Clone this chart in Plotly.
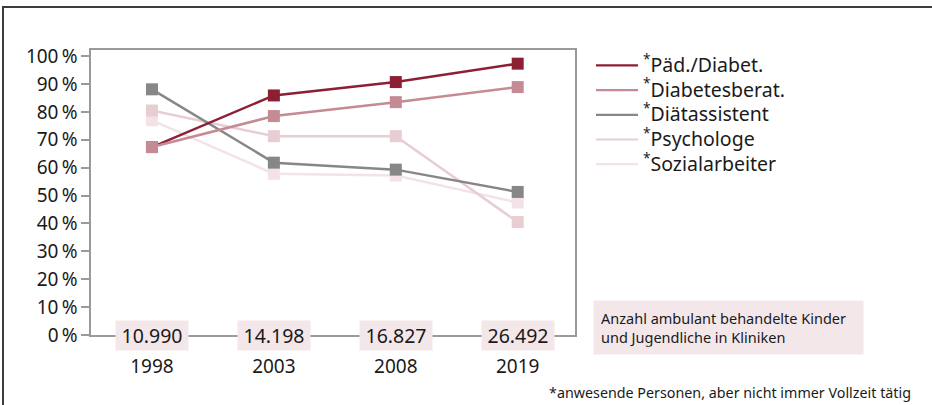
import plotly.graph_objects as go

# Survey years and number of outpatient children/adolescents treated in clinics
years = ["1998", "2003", "2008", "2019"]
patients = ["10.990", "14.198", "16.827", "26.492"]

# Share of clinics with the respective staff present (%)
series_names = ["Päd./Diabet.", "Diabetesberat.", "Diätassistent", "Psychologe", "Sozialarbeiter"]
paed_diabet = [67.4, 85.9, 90.7, 97.3]
diabetesberat = [67.4, 78.5, 83.5, 88.9]
diaetassistent = [88.1, 61.8, 59.3, 51.3]
psychologe = [80.5, 71.3, 71.3, 40.5]
sozialarbeiter = [77.0, 57.8, 57.2, 47.5]
series_values = [paed_diabet, diabetesberat, diaetassistent, psychologe, sozialarbeiter]
series_colors = ["#8c1f33", "#c48b94", "#878787", "#e8cdd3", "#f3e3e7"]

# Drawing order (last drawn ends up on top)
draw_order = [4, 3, 2, 0, 1]

y_ticks = [0, 10, 20, 30, 40, 50, 60, 70, 80, 90, 100]

FONT = "Noto Sans"
TEXT = "#1a1a1a"
AXIS = "#9a9a9a"
BOX_BG = "#f3e7ea"

fig = go.Figure()

for i in draw_order:
    col = series_colors[i]
    fig.add_trace(go.Scatter(
        x=years, y=series_values[i], mode="lines+markers", name=series_names[i],
        line=dict(color=col, width=2.5),
        marker=dict(symbol="square", size=12, color=col),
        showlegend=False, hoverinfo="skip",
    ))

# Legend entries showing just the line sample
for name, col in zip(series_names, series_colors):
    fig.add_trace(go.Scatter(
        x=[None], y=[None], mode="lines",
        name="<span style='font-size:19.5px'><sup>*</sup>" + name + "</span>",
        line=dict(color=col, width=2.2), showlegend=True,
    ))

# Patient counts on pink boxes along the baseline
for idx, n in enumerate(patients):
    fig.add_annotation(
        x=idx, y=0, xref="x", yref="y", text=n, showarrow=False,
        font=dict(family=FONT, size=19.5, color=TEXT),
        bgcolor=BOX_BG, borderpad=1, width=70, xanchor="center", yanchor="middle",
    )

# Explanation box for the counts
fig.add_annotation(
    xref="paper", yref="paper", x=(593 - 91) / 484, y=(335 - 327.5) / 285,
    xanchor="left", yanchor="middle", align="left", showarrow=False,
    text="Anzahl ambulant behandelte Kinder<br>und Jugendliche in Kliniken",
    font=dict(family=FONT, size=14.5, color=TEXT),
    bgcolor=BOX_BG, borderpad=7, width=255,
)

# Footnote
fig.add_annotation(
    xref="paper", yref="paper", x=(913 - 91) / 484, y=(335 - 392) / 285,
    xanchor="right", yanchor="middle", showarrow=False,
    text="*anwesende Personen, aber nicht immer Vollzeit tätig",
    font=dict(family=FONT, size=14.3, color=TEXT),
)

# Outer frame around the graphic
fig.add_shape(
    type="rect", xref="paper", yref="paper",
    x0=(3 - 91) / 484, x1=(940 - 91) / 484,
    y0=(335 - 420) / 285, y1=(335 - 7) / 285,
    line=dict(color="#3c3c3c", width=2), fillcolor="rgba(0,0,0,0)", layer="below",
)

fig.update_layout(
    width=932, height=405,
    margin=dict(l=91, r=357, t=50, b=70),
    paper_bgcolor="white", plot_bgcolor="white",
    font=dict(family=FONT, size=19, color=TEXT),
    legend=dict(
        x=(591 - 91) / 484, y=1.007, xanchor="left", yanchor="top",
        font=dict(family=FONT, size=16.7, color=TEXT),
        bgcolor="rgba(0,0,0,0)", tracegroupgap=0, itemwidth=42,
    ),
    xaxis=dict(
        type="category", range=[-0.5, 3.47],
        showline=True, linecolor=AXIS, linewidth=1.5, mirror=True,
        showgrid=False, zeroline=False, ticks="", ticklabelstandoff=13,
        tickfont=dict(family=FONT, size=19, color=TEXT),
    ),
    yaxis=dict(
        range=[0, 102.2], tickvals=y_ticks,
        ticktext=[f"{v}\u2009%" for v in y_ticks],
        showline=True, linecolor=AXIS, linewidth=1.5, mirror=True,
        showgrid=False, zeroline=False,
        ticks="outside", ticklen=8, tickcolor=AXIS, tickwidth=1.5,
        tickfont=dict(family=FONT, size=19, color=TEXT),
    ),
)

fig.write_html("out.html")
